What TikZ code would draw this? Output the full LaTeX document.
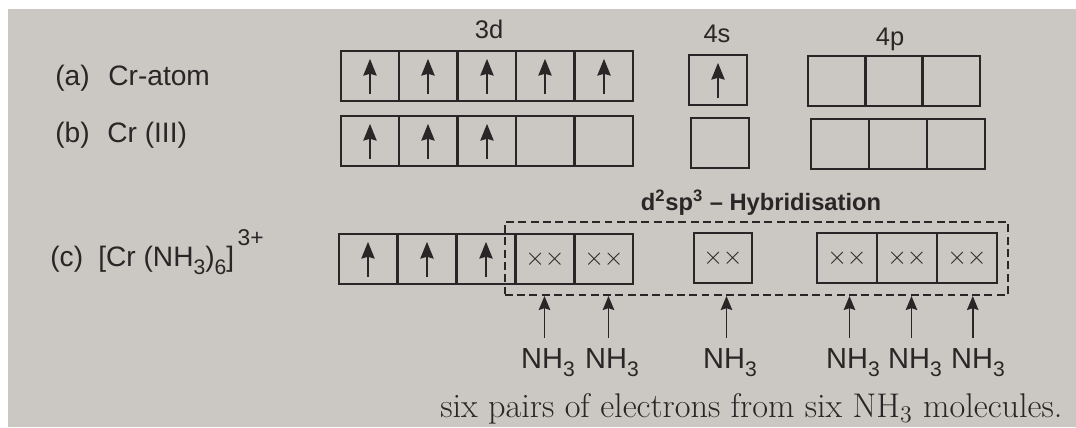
\documentclass[tikz,border=0pt]{standalone}
\usepackage{fontspec}
\setsansfont{Liberation Sans}
\usetikzlibrary{arrows.meta,fit}
\definecolor{paper}{RGB}{203,199,194}
\definecolor{ink}{RGB}{40,38,38}
\newcommand{\lowsub}[1]{\raisebox{-0.3em}{\fontsize{12}{14}\selectfont #1}}

\begin{document}
\begin{tikzpicture}[x=0.02cm,y=-0.02cm,
	orb/.style={shape=rectangle,draw=ink,line width=1.1pt,minimum width=1.17cm,minimum height=1cm,inner sep=0pt,font=\fontsize{14}{16}\selectfont,text=ink},
	lbl/.style={text=ink,anchor=base west,inner sep=0pt,font=\sffamily\fontsize{16}{19}\selectfont},
	shell/.style={text=ink,font=\sffamily\fontsize{14.5}{17}\selectfont},
	lig/.style={text=ink,anchor=base,inner xsep=1pt,inner ysep=5.5pt,font=\sffamily\fontsize{16.5}{19}\selectfont},
	spin/.style={draw=ink,line width=1.3pt,-{Stealth[length=9.5pt,width=7.5pt,inset=1pt]}},
	donor/.style={draw=ink,line width=1.1pt,-{Stealth[length=8pt,width=6.5pt,inset=1pt]}}]
	\useasboundingbox (0,0) rectangle (1076,427);
	\fill[paper] (8,9) rectangle (1076,427);
	% headings
	\node[shell] (h3d) at (489, 29) {3d};
	\node[shell] (h4s) at (717, 34) {4s};
	\node[shell] (h4p) at (890, 39) {4p};
	% (a) Cr-atom
	\node[lbl] (la)  at (55, 85)  {(a)};
	\node[lbl] (ta)  at (108, 85) {Cr-atom};
	\node[orb] (a1)  at (370, 76) {};
	\node[orb] (a2)  at (428, 76) {};
	\node[orb] (a3)  at (487, 76) {};
	\node[orb] (a4)  at (545, 76) {};
	\node[orb] (a5)  at (604, 76) {};
	\node[orb] (as)  at (718, 80) {};
	\node[orb] (ap1) at (837, 81) {};
	\node[orb] (ap2) at (894, 81) {};
	\node[orb] (ap3) at (951, 81) {};
	% (b) Cr (III)
	\node[lbl] (lb)  at (55, 142)  {(b)};
	\node[lbl] (tb)  at (107, 142) {Cr (III)};
	\node[orb] (b1)  at (370, 141) {};
	\node[orb] (b2)  at (428, 141) {};
	\node[orb] (b3)  at (487, 141) {};
	\node[orb] (b4)  at (545, 141) {};
	\node[orb] (b5)  at (604, 141) {};
	\node[orb] (bs)  at (720, 143) {};
	\node[orb] (bp1) at (840, 144) {};
	\node[orb] (bp2) at (898, 144) {};
	\node[orb] (bp3) at (956, 144) {};
	% (c) complex
	\node[lbl] (lc)  at (50, 266) {(c)};
	\node[lbl] (tc)  at (98, 266) {[Cr (NH\lowsub{3})\lowsub{6}]\raisebox{11.5pt}{\kern2pt\fontsize{13}{15}\selectfont 3+}};
	\node[orb] (c1)  at (368, 259) {};
	\node[orb] (c2)  at (427, 259) {};
	\node[orb] (c3)  at (486, 259) {};
	\node[orb] (c4)  at (545, 259) {${\times}{\times}$};
	\node[orb] (c5)  at (604, 259) {${\times}{\times}$};
	\node[orb] (cs)  at (723, 258) {${\times}{\times}$};
	\node[orb,minimum width=1.2cm] (cp1) at (847, 258) {${\times}{\times}$};
	\node[orb,minimum width=1.2cm] (cp2) at (907, 258) {${\times}{\times}$};
	\node[orb,minimum width=1.2cm] (cp3) at (967, 258) {${\times}{\times}$};
	% unpaired electrons
	\draw[spin] ([yshift=4.5pt]a1.south) -- ([yshift=-5pt]a1.north);
	\draw[spin] ([yshift=4.5pt]a2.south) -- ([yshift=-5pt]a2.north);
	\draw[spin] ([yshift=4.5pt]a3.south) -- ([yshift=-5pt]a3.north);
	\draw[spin] ([yshift=4.5pt]a4.south) -- ([yshift=-5pt]a4.north);
	\draw[spin] ([yshift=4.5pt]a5.south) -- ([yshift=-5pt]a5.north);
	\draw[spin] ([yshift=4.5pt]as.south) -- ([yshift=-5pt]as.north);
	\draw[spin] ([yshift=4.5pt]b1.south) -- ([yshift=-5pt]b1.north);
	\draw[spin] ([yshift=4.5pt]b2.south) -- ([yshift=-5pt]b2.north);
	\draw[spin] ([yshift=4.5pt]b3.south) -- ([yshift=-5pt]b3.north);
	\draw[spin] ([yshift=4.5pt]c1.south) -- ([yshift=-5pt]c1.north);
	\draw[spin] ([yshift=4.5pt]c2.south) -- ([yshift=-5pt]c2.north);
	\draw[spin] ([yshift=4.5pt]c3.south) -- ([yshift=-5pt]c3.north);
	% hybrid set
	\node[draw=ink,dash pattern=on 4.5pt off 2.5pt,line width=1.1pt,inner sep=0.2cm,fit=(c4)(cp3)] (hyb) {};
	\node[text=ink,font=\sffamily\bfseries\fontsize{13.5}{16}\selectfont] (ht) at (761, 203) {d\textsuperscript{2}sp\textsuperscript{3} -- Hybridisation};
	% ligand pairs
	\node[lig] (n1) at (548, 368) {NH\lowsub{3}};
	\node[lig] (n2) at (612, 368) {NH\lowsub{3}};
	\node[lig] (n3) at (730, 368) {NH\lowsub{3}};
	\node[lig] (n4) at (853, 368) {NH\lowsub{3}};
	\node[lig] (n5) at (915, 368) {NH\lowsub{3}};
	\node[lig] (n6) at (978, 368) {NH\lowsub{3}};
	\draw[donor] ([xshift=-2pt]n1.north) -- ([xshift=-2pt]n1.north |- hyb.south);
	\draw[donor] ([xshift=-2pt]n2.north) -- ([xshift=-2pt]n2.north |- hyb.south);
	\draw[donor] ([xshift=-2pt]n3.north) -- ([xshift=-2pt]n3.north |- hyb.south);
	\draw[donor] ([xshift=-2pt]n4.north) -- ([xshift=-2pt]n4.north |- hyb.south);
	\draw[donor] ([xshift=-2pt]n5.north) -- ([xshift=-2pt]n5.north |- hyb.south);
	\draw[donor] ([xshift=-3pt]n6.north) -- ([xshift=-3pt]n6.north |- hyb.south);
	\node[text=ink,anchor=base west,inner sep=0pt,font=\fontsize{19.5}{22}\selectfont] (cap) at (440, 417) {six pairs of electrons from six NH\textsubscript{3} molecules.};
\end{tikzpicture}
\end{document}
